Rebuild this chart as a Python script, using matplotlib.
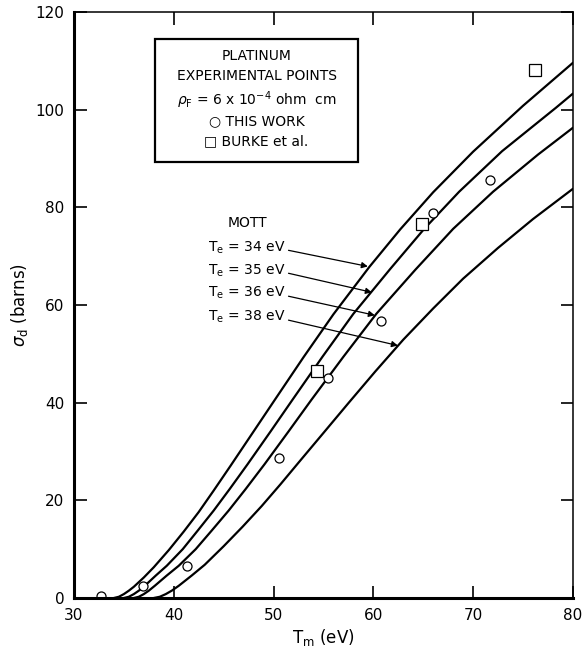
import matplotlib
matplotlib.use("Agg")
import matplotlib.pyplot as plt
from matplotlib.patches import Rectangle

plt.rcParams['font.family'] = ['DejaVu Sans']
plt.rcParams['mathtext.fontset'] = 'dejavusans'

# Mott curves (Tm in eV, sigma_d in barns)
t_34 = [34, 34.5, 35, 35.5, 36, 37, 38, 39.5, 41, 42.5, 44, 45.7, 47.9,
        50.1, 53, 56, 59.6, 62.7, 66, 70, 75, 80]
s_34 = [0, 0.25, 0.8, 1.5, 2.3, 4.2, 6.3, 9.8, 13.6, 17.6, 22.0, 27.1, 33.8,
        40.5, 49.3, 58.1, 67.8, 75.5, 83.1, 91.4, 100.8, 109.6]

t_35 = [35, 35.5, 36, 36.5, 37.1, 38.2, 39.3, 40.9, 42.4, 44.0, 45.6, 47.4,
        49.7, 51.9, 54.9, 58.0, 61.7, 65.1, 68.6, 72.9, 78.3, 80]
s_35 = [0, 0.25, 0.8, 1.5, 2.5, 4.6, 6.6, 10.0, 13.8, 17.9, 22.3, 27.4,
        34.1, 40.6, 49.4, 58.2, 67.4, 75.6, 83.2, 91.5, 100.4, 103.3]

t_36 = [36, 36.5, 37, 37.5, 38.1, 39.3, 40.5, 42.2, 43.8, 45.5, 47.2, 49.1,
        51.5, 53.8, 57.0, 60.3, 64.2, 68.0, 72.0, 76.5, 80]
s_36 = [0, 0.25, 0.8, 1.5, 2.5, 4.6, 6.6, 10.0, 13.8, 17.9, 22.3, 27.4,
        34.1, 40.6, 49.4, 58.2, 67.2, 75.6, 83.2, 90.8, 96.3]

t_38 = [38, 38.6, 39.2, 39.8, 40.5, 41.8, 43.1, 45.0, 46.9, 48.8, 50.7, 52.7,
        55.0, 57.5, 60.2, 63.0, 66.0, 69.0, 72.5, 76.0, 80]
s_38 = [0, 0.25, 0.8, 1.5, 2.5, 4.6, 6.8, 10.6, 14.6, 18.8, 23.3, 28.2,
        33.8, 39.9, 46.4, 52.9, 59.3, 65.4, 71.7, 77.6, 83.8]

# experimental points
this_t = [32.7, 36.9, 41.3, 50.5, 55.5, 60.75, 66.0, 71.7]
this_s = [0.4, 2.5, 6.5, 28.6, 45.0, 56.7, 78.9, 85.5]
burke_t = [54.4, 64.85, 76.2]
burke_s = [46.4, 76.6, 108.2]

# labels for the curves and where their arrows point
te_labels = ['34', '35', '36', '38']
label_s = [71.8, 67.1, 62.4, 57.5]
tip_t = [59.45, 59.85, 60.15, 62.46]
tip_s = [67.9, 62.6, 57.9, 51.7]

fig = plt.figure(figsize=(5.87, 6.5), dpi=100)
ax = fig.add_axes([0.126, 0.08, 0.85, 0.9015])

for t, s in [(t_34, s_34), (t_35, s_35), (t_36, s_36), (t_38, s_38)]:
    ax.plot(t, s, color='black', lw=1.6, solid_joinstyle='round',
            solid_capstyle='round')

ax.plot(this_t, this_s, 'o', ms=6.5, mfc='white', mec='black', mew=0.9)
ax.plot(burke_t, burke_s, 's', ms=8, mfc='white', mec='black', mew=0.9)

ax.set_xlim(30, 80)
ax.set_ylim(0, 120)
ax.set_xticks([30, 40, 50, 60, 70, 80])
ax.set_yticks([0, 20, 40, 60, 80, 100, 120])
ax.tick_params(direction='in', length=9, width=1.2, labelsize=11,
               top=True, right=True, pad=7)
for side in ['left', 'bottom']:
    ax.spines[side].set_linewidth(2.2)
for side in ['top', 'right']:
    ax.spines[side].set_linewidth(1.1)

ax.set_xlabel('T$_\\mathregular{m}$ (eV)', fontsize=12, labelpad=3)
ax.set_ylabel('$\\sigma_\\mathregular{d}$ (barns)', fontsize=12, labelpad=4)

# key box
ax.add_patch(Rectangle((38.1, 89.2), 20.4, 25.3, fill=False, lw=1.6,
                       edgecolor='black'))
cx = 48.3
ax.text(cx, 111.0, 'PLATINUM', ha='center', va='center', fontsize=10)
ax.text(cx, 106.9, 'EXPERIMENTAL POINTS', ha='center', va='center', fontsize=10)
ax.text(cx, 101.9, '$\\rho_\\mathregular{F}$ = 6 x 10$^{-4}$ ohm  cm',
        ha='center', va='center', fontsize=10)
ax.text(cx, 97.6, '\u25cb THIS WORK', ha='center', va='center', fontsize=10)
ax.text(cx, 93.6, '\u25a1 BURKE et al.', ha='center', va='center', fontsize=10)

ax.text(47.4, 76.7, 'MOTT', ha='center', va='center', fontsize=10)
for lab, ys, tt, ts in zip(te_labels, label_s, tip_t, tip_s):
    ax.text(51.2, ys, 'T$_\\mathregular{e}$ = ' + lab + ' eV', ha='right',
            va='center', fontsize=10)
    ax.annotate('', xy=(tt, ts), xytext=(51.5, ys - 0.6),
                arrowprops=dict(arrowstyle='-|>', color='black', lw=0.9,
                                mutation_scale=9, shrinkA=0, shrinkB=0))

fig.savefig('out.png', dpi=100)
